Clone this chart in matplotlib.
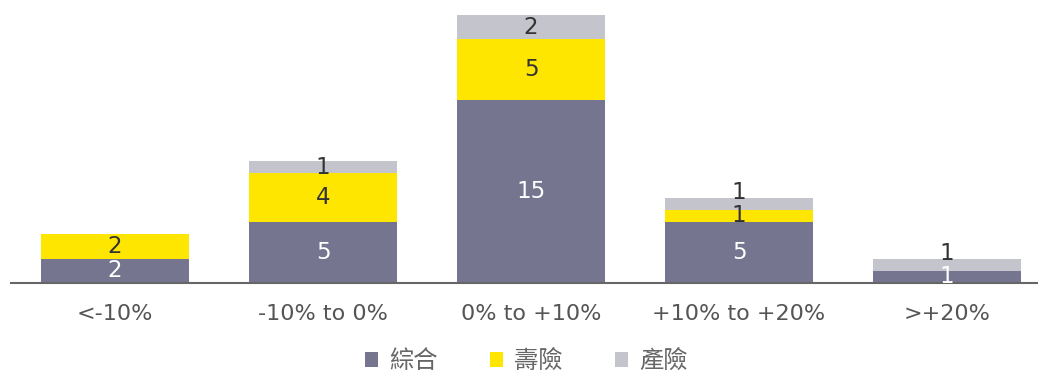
import matplotlib
matplotlib.use("Agg")
import matplotlib.pyplot as plt
from matplotlib.patches import Patch
import numpy as np

categories = ["<-10%", "-10% to 0%", "0% to +10%", "+10% to +20%", ">+20%"]
series_names = ["綜合", "壽險", "產險"]
composite = [2, 5, 15, 5, 1]
life = [2, 4, 5, 1, 0]
property_casualty = [0, 1, 2, 1, 1]

colors = ["#76758f", "#ffe600", "#c4c4cd"]
label_colors = ["white", "#333333", "#333333"]

plt.rcParams["font.family"] = ["DejaVu Sans", "Noto Sans CJK TC"]

W, H = 1038, 371
fig = plt.figure(figsize=(W / 100, H / 100), dpi=100)
ax = fig.add_axes([11 / W, 88 / H, 1027 / W, 268 / H])

x = np.arange(len(categories))
bar_w = 0.71
min_gap = 1.9  # minimum vertical distance between stacked labels, in data units
bottom = np.zeros(len(categories))
last_label_y = np.full(len(categories), -np.inf)
for vals, color, lc in zip([composite, life, property_casualty], colors, label_colors):
    vals = np.array(vals, dtype=float)
    bars = ax.bar(x, vals, bar_w, bottom=bottom, color=color, linewidth=0, zorder=2)
    for i, (rect, v, b) in enumerate(zip(bars, vals, bottom)):
        if v <= 0:
            continue
        y = max(b + v / 2, last_label_y[i] + min_gap)
        last_label_y[i] = y
        ax.text(rect.get_x() + rect.get_width() / 2, y, f"{int(v)}",
                ha="center", va="center", fontsize=16.5, color=lc, zorder=5)
    bottom += vals

ax.set_xlim(-0.5, -0.5 + 1027 / 208)
ax.set_ylim(0, 22)
ax.set_xticks(x)
ax.set_xticklabels(categories, fontsize=16, color="#555555")
ax.tick_params(axis="x", length=0, pad=15)
ax.set_yticks([])
for s in ["top", "right", "left"]:
    ax.spines[s].set_visible(False)
ax.spines["bottom"].set_color("#666666")
ax.spines["bottom"].set_linewidth(1.5)
ax.spines["bottom"].set_zorder(3)

handles = [Patch(facecolor=c, edgecolor="none") for c in colors]
fig.legend(handles, series_names, loc="center", bbox_to_anchor=(526 / W, 1 - 361 / H),
           ncol=3, frameon=False, fontsize=17.5, handlelength=0.55, handleheight=0.55,
           columnspacing=2.15, handletextpad=0.45, labelcolor="#666666")

fig.savefig("out.png", dpi=100)
